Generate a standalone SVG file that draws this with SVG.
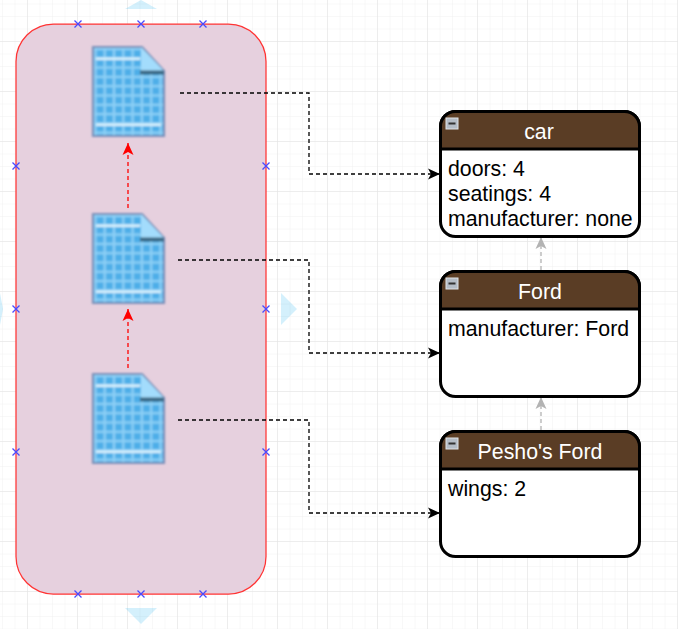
<svg xmlns="http://www.w3.org/2000/svg" width="678" height="629" viewBox="0 0 678 629">
<style>
text{font-family:"Liberation Sans",Arial,sans-serif;font-size:21.3px}
.hd{fill:#fff;text-anchor:middle}
.row{fill:#000}
.body{fill:#fff;stroke:#000;stroke-width:3}
.head{fill:#5a3d25;stroke:#000;stroke-width:3}
.pt{stroke:#4a4aff;stroke-width:1.3;fill:none}
.tri{fill:#29b6f2;fill-opacity:.2}
.c{fill:none;stroke:#000;stroke-width:1.3;stroke-dasharray:4 3}
.r{fill:none;stroke:#f00;stroke-width:1.3;stroke-dasharray:4 3}
.g{fill:none;stroke:#b3b3b3;stroke-width:1.3;stroke-dasharray:4 3}
</style>
<defs>
<pattern id="minor" width="12.5" height="12.5" patternUnits="userSpaceOnUse" x="3" y="4.500"><path d="M12.500 0V12.500M0 12.500H12.500" stroke="#f1f1f1" stroke-width="1" fill="none"/></pattern>
<pattern id="major" width="50" height="50" patternUnits="userSpaceOnUse" x="-22" y="-8"><path d="M50 0V50M0 50H50" stroke="#e3e3e3" stroke-width="1" fill="none"/></pattern>
<pattern id="cells" width="9.300" height="9.300" patternUnits="userSpaceOnUse" x="95.400" y="49"><rect x="1.200" y="1.200" width="6.900" height="6.900" fill="#4eaee8"/></pattern>
<filter id="soft" x="-10%" y="-10%" width="120%" height="120%"><feGaussianBlur stdDeviation="0.9"/></filter>
<marker id="ak" markerWidth="14" markerHeight="14" refX="12" refY="6" orient="auto" markerUnits="userSpaceOnUse"><path d="M0 0.500L12 6L0 11.500L3 6Z" fill="#000"/></marker>
<marker id="ar" markerWidth="14" markerHeight="14" refX="12" refY="6" orient="auto" markerUnits="userSpaceOnUse"><path d="M0 0.500L12 6L0 11.500L3 6Z" fill="#f00"/></marker>
<marker id="ag" markerWidth="14" markerHeight="14" refX="12" refY="6" orient="auto" markerUnits="userSpaceOnUse"><path d="M0 0.500L12 6L0 11.500L3 6Z" fill="#b3b3b3"/></marker>
<g id="doc" filter="url(#soft)">
<path d="M93 47H142L164 71V136H93Z" fill="#8dd0f6" stroke="#7b8fb8" stroke-width="2.200"/>
<path d="M94 48H142L163 71V135H94Z" fill="url(#cells)"/>
<rect x="96" y="57.500" width="44" height="2.600" fill="#d8f0fc"/>
<rect x="96" y="123.500" width="65" height="2.600" fill="#d8f0fc"/>
<path d="M141 47L164 71H141Z" fill="#a3dcfc"/>
<path d="M140 70.500H164V74.500H140Z" fill="#3a6883"/>
</g>
<path id="x" class="pt" d="M-3.500-3.500L3.500 3.500M-3.500 3.500L3.500-3.500"/>
</defs>
<rect width="678" height="629" fill="#fff"/>
<rect width="678" height="629" fill="url(#minor)"/>
<rect width="678" height="629" fill="url(#major)"/>
<g id="hints">
<path class="tri" d="M125 9L141 0L157 9Z"/>
<path class="tri" d="M125 608H157L141 624Z"/>
<path class="tri" d="M281 293L297 309L281 325Z"/>
<path class="tri" d="M0 293L3 309L0 325Z"/>
</g>
<g id="container">
<rect x="16" y="24" width="250" height="570" rx="37.500" fill="#e6d0de" stroke="#ff3333" stroke-width="1.250"/>
</g>
<g id="doc1"><use href="#doc"/></g>
<g id="doc2"><use href="#doc" y="167"/></g>
<g id="doc3"><use href="#doc" y="327"/></g>
<g id="connectors">
<path class="r" d="M128 208V143" marker-end="url(#ar)"/>
<path class="r" d="M128 368V309" marker-end="url(#ar)"/>
<path class="c" d="M180 93H309V174H440" marker-end="url(#ak)"/>
<path class="c" d="M178 260H309V353H440" marker-end="url(#ak)"/>
<path class="c" d="M178 420H309V513H440" marker-end="url(#ak)"/>
<path class="g" d="M541 270V237" marker-end="url(#ag)"/>
<path class="g" d="M541 430V397" marker-end="url(#ag)"/>
</g>
<g id="car">
<rect class="body" x="440.500" y="111.500" width="199" height="125" rx="15"/>
<path class="head" d="M440.500 149V126.500A15 15 0 0 1 455.500 111.500H624.500A15 15 0 0 1 639.500 126.500V149Z"/>
<rect x="446" y="118" width="12" height="11" fill="#b4bcc6" stroke="#dfe3e8"/><rect x="448.500" y="122.500" width="7" height="2" fill="#333"/>
<text class="hd" x="539" y="139">car</text>
<text class="row" x="448" y="176">doors: 4</text>
<text class="row" x="448" y="201">seatings: 4</text>
<text class="row" x="448" y="226">manufacturer: none</text>
</g>
<g id="ford">
<rect class="body" x="440.500" y="271.500" width="199" height="125" rx="15"/>
<path class="head" d="M440.500 309V286.500A15 15 0 0 1 455.500 271.500H624.500A15 15 0 0 1 639.500 286.500V309Z"/>
<rect x="446" y="278" width="12" height="11" fill="#b4bcc6" stroke="#dfe3e8"/><rect x="448.500" y="282.500" width="7" height="2" fill="#333"/>
<text class="hd" x="540" y="299">Ford</text>
<text class="row" x="448" y="336">manufacturer: Ford</text>
</g>
<g id="peshos-ford">
<rect class="body" x="440.500" y="431.500" width="199" height="125" rx="15"/>
<path class="head" d="M440.500 469V446.500A15 15 0 0 1 455.500 431.500H624.500A15 15 0 0 1 639.500 446.500V469Z"/>
<rect x="446" y="438" width="12" height="11" fill="#b4bcc6" stroke="#dfe3e8"/><rect x="448.500" y="442.500" width="7" height="2" fill="#333"/>
<text class="hd" x="540" y="459">Pesho's Ford</text>
<text class="row" x="448" y="496">wings: 2</text>
</g>
<g id="points">
<use href="#x" x="78" y="24"/><use href="#x" x="141" y="24"/><use href="#x" x="203" y="24"/>
<use href="#x" x="78" y="594"/><use href="#x" x="141" y="594"/><use href="#x" x="203" y="594"/>
<use href="#x" x="16" y="166"/><use href="#x" x="16" y="309"/><use href="#x" x="16" y="452"/>
<use href="#x" x="266" y="166"/><use href="#x" x="266" y="309"/><use href="#x" x="266" y="452"/>
</g>
</svg>
